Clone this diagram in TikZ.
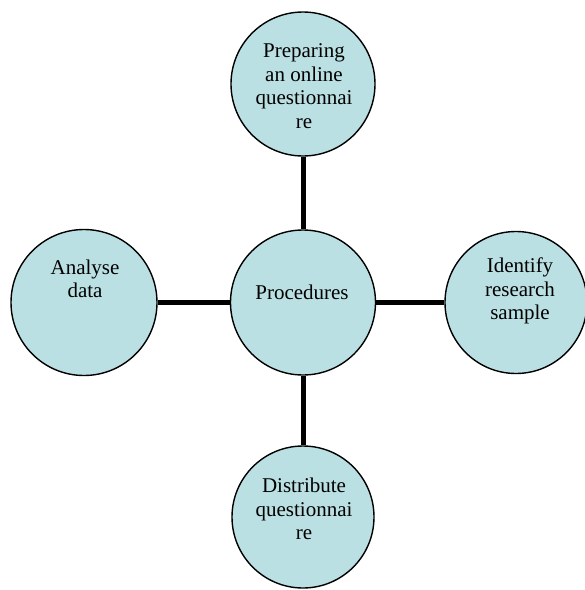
\documentclass[tikz,border=0pt]{standalone}
\usepackage{fontspec}
\setmainfont{Liberation Serif}
\begin{document}
\begin{tikzpicture}[x=1pt,y=1pt,
  bubble/.style={circle,draw=black,line width=1.4pt,fill=bubblefill,inner sep=0pt},
  label/.style={align=center,inner sep=0pt,font=\fontsize{21}{23.5}\selectfont},
  link/.style={line width=5pt,draw=black}]
\definecolor{bubblefill}{RGB}{187,224,227}
\useasboundingbox (0,0) rectangle (585,-590);
\node[bubble,minimum size=145pt] (c) at (303,-302.5) {};
\node[bubble,minimum size=144pt] (t) at (303,-84) {};
\node[bubble,minimum size=146pt] (l) at (84,-302.5) {};
\node[bubble,minimum size=142pt] (r) at (516,-302.5) {};
\node[bubble,minimum size=142pt] (b) at (303,-517) {};
\draw[link] (t) -- (c);
\draw[link] (b) -- (c);
\draw[link] (l) -- (c);
\draw[link] (r) -- (c);
\node[label] (tt) at (304,-86) {Preparing\\an online\\questionnai\\re};
\node[label] (ct) at (302,-292) {Procedures};
\node[label] (lt) at (85,-279) {Analyse\\data};
\node[label] (rt) at (520,-291) {Identify\\research\\sample};
\node[label] (bt) at (304,-509) {Distribute\\questionnai\\re};
\end{tikzpicture}
\end{document}
